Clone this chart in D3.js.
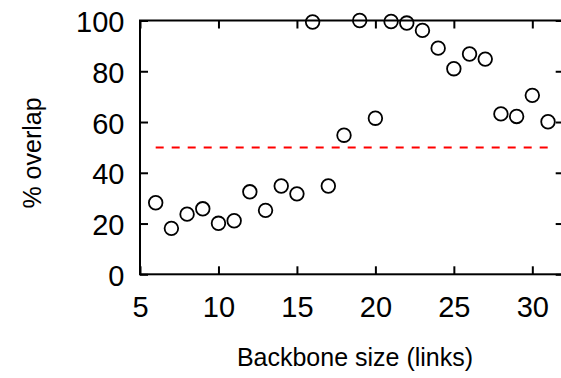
<!DOCTYPE html>
<html>
<head>
<meta charset="utf-8">
<script src="https://cdn.jsdelivr.net/npm/d3@7/dist/d3.min.js"></script>
<style>
  html, body { margin: 0; padding: 0; background: #fff; }
  svg { display: block; }
  text { font-family: "Liberation Sans", Arial, sans-serif; fill: #000; }
</style>
</head>
<body>
<svg id="chart" width="561" height="378"></svg>
<script>
// ---- data ----
const backboneSize = [6, 7, 8, 9, 10, 11, 12, 13, 14, 15, 16, 17, 18, 19, 20, 21, 22, 23, 24, 25, 26, 27, 28, 29, 30, 31];
const overlapPct   = [28.2, 18.1, 23.7, 25.8, 20.1, 21.1, 32.5, 25.2, 34.8, 31.7, 99.4, 34.8, 54.8, 100, 61.5, 99.6, 99, 96.1, 89.1, 81, 86.8, 84.8, 63.2, 62.2, 70.5, 60.1];
const thresholdValue = 50;
const thresholdRange = [6, 31];
const xTicks = [5, 10, 15, 20, 25, 30];
const yTicks = [0, 20, 40, 60, 80, 100];
const xDomain = [5, 32];
const yDomain = [0, 100];
const xTitle = "Backbone size (links)";
const yTitle = "% overlap";

(function () {
// ---- layout ----
const svg = d3.select("#chart");
const pL = 140, pR = 563.7, pT = 20.5, pB = 274.3;

const x = d3.scaleLinear().domain(xDomain).range([pL, pR]);
const y = d3.scaleLinear().domain(yDomain).range([pB, pT]);

const tickFont = 29;
const titleFont = 25;
const tick = 8;

// threshold dashed line
svg.append("line")
  .attr("x1", x(thresholdRange[0])).attr("x2", x(thresholdRange[1]))
  .attr("y1", y(thresholdValue)).attr("y2", y(thresholdValue))
  .attr("stroke", "#ff0000").attr("stroke-width", 2)
  .attr("stroke-dasharray", "8,8");

// axes (ticks inward, mirrored)
function styleAxis(g, showLabels) {
  g.select(".domain").remove();
  g.selectAll(".tick line").attr("stroke", "#000").attr("stroke-width", 2);
  if (!showLabels) g.selectAll(".tick text").remove();
  else g.selectAll(".tick text").attr("font-size", tickFont).attr("font-family", "Liberation Sans, Arial, sans-serif").attr("fill", "#000");
}

const gx = svg.append("g").attr("transform", `translate(0,${pB})`)
  .call(d3.axisBottom(x).tickValues(xTicks).tickSizeInner(-tick).tickSizeOuter(0).tickPadding(0));
styleAxis(gx, true);
gx.selectAll(".tick text").attr("dy", null).attr("y", 42.5);

const gxt = svg.append("g").attr("transform", `translate(0,${pT})`)
  .call(d3.axisTop(x).tickValues(xTicks).tickSizeInner(-tick).tickSizeOuter(0));
styleAxis(gxt, false);

const gy = svg.append("g").attr("transform", `translate(${pL},0)`)
  .call(d3.axisLeft(y).tickValues(yTicks).tickSizeInner(-tick).tickSizeOuter(0).tickPadding(0));
styleAxis(gy, true);
gy.selectAll(".tick text").attr("x", -15.5).attr("dy", "0.38em");

const gyr = svg.append("g").attr("transform", `translate(${pR},0)`)
  .call(d3.axisRight(y).tickValues(yTicks).tickSizeInner(-tick).tickSizeOuter(0));
styleAxis(gyr, false);

// frame
svg.append("rect")
  .attr("x", pL).attr("y", pT)
  .attr("width", pR - pL).attr("height", pB - pT)
  .attr("fill", "none").attr("stroke", "#000").attr("stroke-width", 2);

// points
svg.append("g").selectAll("circle")
  .data(backboneSize.map((d, i) => ({ x: d, y: overlapPct[i] })))
  .join("circle")
  .attr("cx", d => x(d.x)).attr("cy", d => y(d.y))
  .attr("r", 6.8)
  .attr("fill", "none").attr("stroke", "#000").attr("stroke-width", 1.8);

// titles
svg.append("text")
  .attr("x", 355).attr("y", 366)
  .attr("text-anchor", "middle").attr("font-size", titleFont)
  .text(xTitle);

svg.append("text")
  .attr("transform", `translate(41,153) rotate(-90)`)
  .attr("text-anchor", "middle").attr("font-size", titleFont)
  .text(yTitle);
})();
</script>
</body>
</html>
